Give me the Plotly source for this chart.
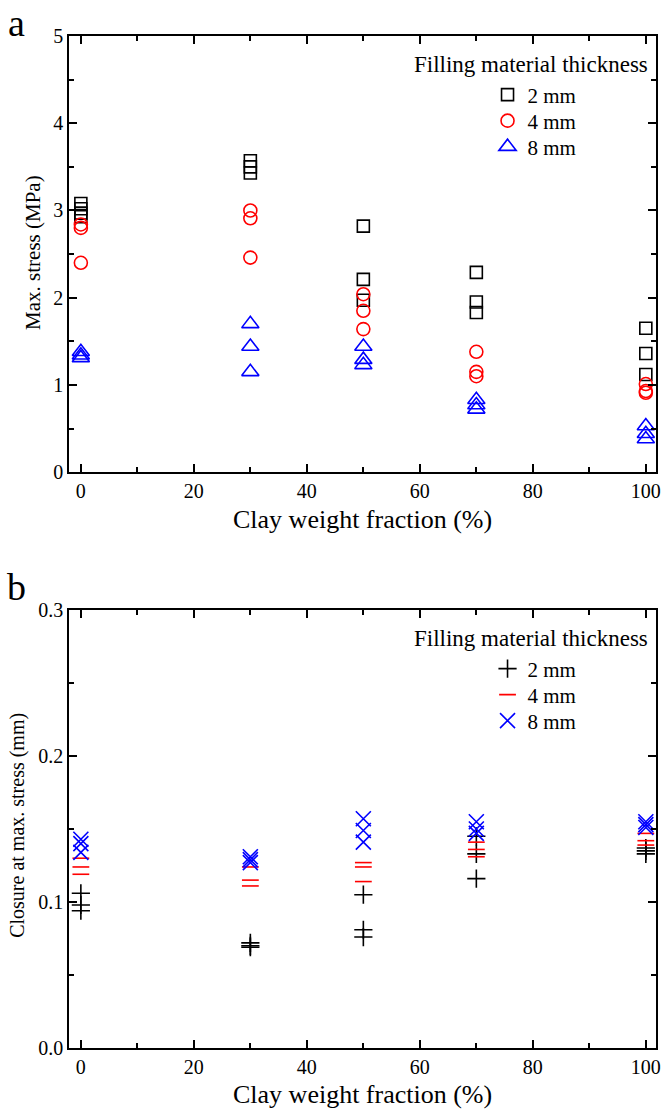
import plotly.graph_objects as go

# Clay weight fraction (%) for each group of specimens
clay = [0, 30, 50, 70, 100]

# Max. stress (MPa) per specimen, by filling material thickness
stress_2mm = [[3.08, 3.02, 2.97, 2.93], [3.57, 3.50, 3.43], [2.82, 2.21, 1.97], [2.29, 1.95, 1.83], [1.65, 1.36, 1.12]]
stress_4mm = [[2.84, 2.80, 2.40], [3.00, 2.91, 2.46], [2.04, 1.85, 1.64], [1.38, 1.15, 1.10], [1.01, 0.93, 0.91]]
stress_8mm = [[1.38, 1.34, 1.31], [1.70, 1.44, 1.15], [1.44, 1.29, 1.23], [0.83, 0.77, 0.72], [0.53, 0.44, 0.38]]

# Closure at max. stress (mm) per specimen
closure_2mm = [[0.106, 0.098, 0.094], [0.072, 0.070, 0.069], [0.105, 0.081, 0.076], [0.145, 0.133, 0.116], [0.137, 0.135, 0.133]]
closure_4mm = [[0.130, 0.124, 0.119], [0.124, 0.115, 0.111], [0.127, 0.124, 0.114], [0.141, 0.136, 0.131], [0.147, 0.142, 0.139]]
closure_8mm = [[0.143, 0.140, 0.134], [0.131, 0.129, 0.127], [0.157, 0.149, 0.141], [0.155, 0.150, 0.147], [0.155, 0.153, 0.151]]

thickness_labels = ["2 mm", "4 mm", "8 mm"]
x_ticks = [0, 20, 40, 60, 80, 100]
stress_ticks = [0, 1, 2, 3, 4, 5]
closure_ticks = [0.0, 0.1, 0.2, 0.3]


def flatten(groups):
    xs, ys = [], []
    for xv, vals in zip(clay, groups):
        for v in vals:
            xs.append(xv)
            ys.append(v)
    return xs, ys


FONT = "Liberation Serif"
fig = go.Figure()

# one single-entry legend per series so each row sits at its own height
legend_rows_a = [0.9417, 0.9160, 0.8903]
legend_rows_b = [0.3745, 0.3488, 0.3231]
legend_style = dict(
    x=0.713, xanchor="left", yanchor="middle", bgcolor="rgba(0,0,0,0)",
    font=dict(family=FONT, size=21, color="black"), itemwidth=30,
)
legend_layout = {}

styles_a = [
    (stress_2mm, "square-open", "black", 12),
    (stress_4mm, "circle-open", "red", 13),
    (stress_8mm, "triangle-up-open", "blue", 15),
]
styles_b = [
    (closure_2mm, "cross-thin-open", "black", 13),
    (closure_4mm, "line-ew-open", "red", 12),
    (closure_8mm, "x-thin-open", "blue", 15),
]

n = 0
for styles, rows, xa, ya in [(styles_a, legend_rows_a, "x", "y"), (styles_b, legend_rows_b, "x2", "y2")]:
    for (data, sym, col, sz), name, row in zip(styles, thickness_labels, rows):
        n += 1
        key = "legend" if n == 1 else f"legend{n}"
        legend_layout[key] = dict(legend_style, y=row)
        xs, ys = flatten(data)
        fig.add_trace(go.Scatter(
            x=xs, y=ys, mode="markers", name=name, xaxis=xa, yaxis=ya, legend=key,
            marker=dict(symbol=sym, size=sz, color=col, line=dict(width=1.6, color=col)),
        ))

minor_ticks = dict(ticks="inside", ticklen=5, tickwidth=1.5, tickcolor="black")
axis_common = dict(
    showline=True, linecolor="black", linewidth=1.5, mirror="ticks",
    ticks="inside", ticklen=8, tickwidth=1.5, tickcolor="black",
    showgrid=False, zeroline=False,
    tickfont=dict(family=FONT, size=20, color="black"),
)

fig.update_layout(
    width=667, height=1114,
    margin=dict(l=69, r=6, t=36, b=66),
    paper_bgcolor="white", plot_bgcolor="white",
    showlegend=True,
    xaxis=dict(axis_common, domain=[0, 1], anchor="y", range=[-2.1, 101.8],
               tickvals=x_ticks, minor=dict(minor_ticks, dtick=10)),
    yaxis=dict(axis_common, domain=[0.569, 1], anchor="x", range=[0, 5],
               tickvals=stress_ticks, minor=dict(minor_ticks, dtick=0.5)),
    xaxis2=dict(axis_common, domain=[0, 1], anchor="y2", range=[-2.1, 101.8],
                tickvals=x_ticks, minor=dict(minor_ticks, dtick=10)),
    yaxis2=dict(axis_common, domain=[0, 0.4328], anchor="x2", range=[0, 0.3],
                tickvals=closure_ticks, tickformat=".1f",
                minor=dict(minor_ticks, dtick=0.05)),
    **legend_layout,
)

annotations = [
    dict(text="a", x=-0.0895, y=1.0128, font=dict(size=38)),
    dict(text="b", x=-0.0895, y=0.4560, font=dict(size=38)),
    dict(text="Filling material thickness", x=0.787, y=0.9723, font=dict(size=23)),
    dict(text="Filling material thickness", x=0.787, y=0.4051, font=dict(size=23)),
    dict(text="Clay weight fraction (%)", x=0.5, y=0.5227, font=dict(size=26)),
    dict(text="Clay weight fraction (%)", x=0.5, y=-0.0464, font=dict(size=26)),
    dict(text="Max. stress (MPa)", x=-0.0625, y=0.786, font=dict(size=21), textangle=-90),
    dict(text="Closure at max. stress (mm)", x=-0.0878, y=0.220, font=dict(size=20), textangle=-90),
]
for a in annotations:
    a["font"].update(family=FONT, color="black")
    fig.add_annotation(xref="paper", yref="paper", showarrow=False,
                       xanchor="center", yanchor="middle", **a)

fig.write_html("out.html")
